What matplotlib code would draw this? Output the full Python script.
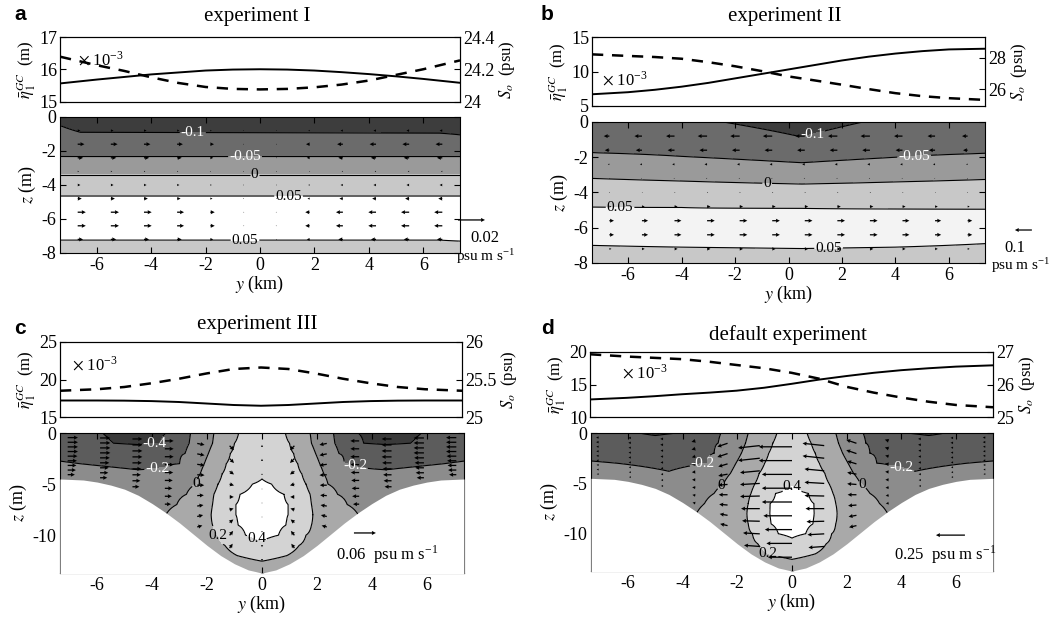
import numpy as np
import matplotlib
matplotlib.use("Agg")
import matplotlib.pyplot as plt
from matplotlib.ticker import FuncFormatter

plt.rcParams['font.family'] = ['Liberation Serif', 'DejaVu Serif']
plt.rcParams['mathtext.fontset'] = 'stix'
plt.rcParams['font.size'] = 12
plt.rcParams['axes.unicode_minus'] = False
plt.rcParams['contour.negative_linestyle'] = 'solid'

# ---------------------------------------------------------------- data
# cross-channel positions (km) of the along-channel profiles
y_profile = [-7.35, -6, -5, -4, -3, -2, -1, 0, 1, 2, 3, 4, 5, 6, 7.35]

eta_I = [15.56, 15.68, 15.76, 15.84, 15.90, 15.96, 15.99, 16.00, 15.99, 15.96, 15.91, 15.85, 15.78, 15.70, 15.58]
salt_I = [24.278, 24.225, 24.19, 24.15, 24.115, 24.09, 24.078, 24.075, 24.078, 24.088, 24.105, 24.13, 24.165, 24.20, 24.255]

eta_II = [6.7, 7.0, 7.35, 7.8, 8.35, 9.0, 9.65, 10.3, 10.95, 11.6, 12.15, 12.6, 12.95, 13.2, 13.3]
salt_II = [28.22, 28.12, 28.05, 27.94, 27.72, 27.46, 27.15, 26.81, 26.55, 26.28, 26.0, 25.74, 25.55, 25.42, 25.31]

eta_III = [17.2, 17.2, 17.18, 17.12, 17.0, 16.8, 16.6, 16.5, 16.6, 16.8, 17.0, 17.12, 17.18, 17.2, 17.2]
salt_III = [25.35, 25.37, 25.40, 25.45, 25.51, 25.58, 25.64, 25.66, 25.64, 25.58, 25.51, 25.45, 25.40, 25.37, 25.35]

eta_def = [12.7, 12.95, 13.2, 13.5, 13.75, 14.05, 14.5, 15.1, 15.75, 16.3, 16.8, 17.2, 17.5, 17.75, 17.95]
salt_def = [26.93, 26.86, 26.82, 26.78, 26.70, 26.60, 26.50, 26.36, 26.18, 25.93, 25.75, 25.60, 25.47, 25.37, 25.30]

# channel depth (m) against distance from the axis (km), triangular section
bathy_y = [0, 0.5, 1, 1.5, 2, 2.5, 3, 3.5, 4, 4.5, 5, 5.5, 6, 6.5, 7.35]
bathy_h = [13.7, 13.4, 12.8, 12.0, 11.0, 9.9, 8.8, 7.8, 6.9, 6.1, 5.5, 5.1, 4.8, 4.6, 4.5]

# salt-flux profiles (psu m/s), flat-bottom runs: (z, value) at a few stations
flux_I_y = [-7.35, -6.6, 6.6, 7.35]
flux_I_cols = [
    [(0, -0.13), (-0.5, -0.1), (-2.33, -0.05), (-3.41, 0), (-4.65, 0.05), (-6.0, 0.06), (-7.24, 0.05), (-8, 0.045)],
    [(0, -0.13), (-0.9, -0.1), (-2.33, -0.05), (-3.41, 0), (-4.65, 0.05), (-6.0, 0.06), (-7.24, 0.05), (-8, 0.045)],
    [(0, -0.13), (-0.95, -0.1), (-2.33, -0.05), (-3.41, 0), (-4.65, 0.05), (-6.0, 0.06), (-7.24, 0.05), (-8, 0.045)],
    [(0, -0.13), (-1.05, -0.1), (-2.33, -0.05), (-3.41, 0), (-4.65, 0.05), (-6.0, 0.06), (-7.3, 0.05), (-8, 0.045)],
]

flux_II_y = [-7.35, -4.0, 0.5, 4.0, 7.35]
flux_II_cols = [
    [(0, -0.085), (-1.74, -0.05), (-3.2, 0), (-4.81, 0.05), (-6.0, 0.058), (-7.0, 0.05), (-8, 0.044)],
    [(0, -0.092), (-1.95, -0.05), (-3.35, 0), (-4.85, 0.05), (-6.0, 0.058), (-7.1, 0.05), (-8, 0.044)],
    [(0, -0.115), (-0.85, -0.1), (-2.31, -0.05), (-3.52, 0), (-4.9, 0.05), (-6.0, 0.058), (-7.18, 0.05), (-8, 0.044)],
    [(0, -0.092), (-2.0, -0.05), (-3.4, 0), (-4.92, 0.05), (-6.0, 0.058), (-7.1, 0.05), (-8, 0.044)],
    [(0, -0.085), (-1.78, -0.05), (-3.26, 0), (-4.95, 0.05), (-6.0, 0.058), (-6.9, 0.05), (-8, 0.044)],
]

# channel runs: (|y|, value) along each depth level, symmetric about the axis
flux_III_z = [0, -1, -2, -3, -4, -5, -6, -7, -8, -9, -10, -11, -12, -13, -14]
flux_III_rows = [
    [(0, 0.30), (0.85, 0.2), (1.75, 0), (2.6, -0.2), (3.5, -0.4), (4.5, -0.48), (5.8, -0.4), (7.35, -0.33)],
    [(0, 0.32), (1.0, 0.2), (1.8, 0), (2.65, -0.2), (3.7, -0.4), (4.5, -0.42), (5.4, -0.4), (7.35, -0.28)],
    [(0, 0.34), (1.15, 0.2), (1.95, 0), (2.8, -0.2), (4.5, -0.27), (7.35, -0.23)],
    [(0, 0.36), (1.3, 0.2), (2.1, 0), (3.0, -0.2), (4.5, -0.23), (7.35, -0.19)],
    [(0, 0.38), (1.45, 0.2), (2.25, 0), (3.5, -0.18), (4.5, -0.18), (7.35, -0.14)],
    [(0, 0.42), (0.35, 0.4), (1.6, 0.2), (2.4, 0), (3.5, -0.1), (7.35, -0.12)],
    [(0, 0.46), (0.8, 0.4), (1.75, 0.2), (2.75, 0), (4.0, -0.08), (7.35, -0.1)],
    [(0, 0.48), (0.95, 0.4), (1.8, 0.2), (3.1, 0), (4.0, -0.06), (7.35, -0.1)],
    [(0, 0.48), (0.95, 0.4), (1.85, 0.2), (3.5, 0), (7.35, -0.05)],
    [(0, 0.47), (0.88, 0.4), (1.8, 0.2), (3.8, 0.02), (7.35, 0)],
    [(0, 0.44), (0.6, 0.4), (1.6, 0.2), (3.5, 0.05), (7.35, 0.05)],
    [(0, 0.37), (1.35, 0.2), (3.0, 0.07), (7.35, 0.07)],
    [(0, 0.26), (0.9, 0.2), (2.5, 0.08), (7.35, 0.08)],
    [(0, 0.15), (2.0, 0.06), (7.35, 0.06)],
    [(0, 0.10), (2.0, 0.05), (7.35, 0.05)],
]

flux_def_z = [0, -1, -2, -3, -4, -5, -6, -7, -8, -9, -10, -11, -12, -13, -14]
flux_def_rows = [
    [(0, 0.28), (0.55, 0.2), (1.6, 0), (2.6, -0.2), (4.2, -0.4), (5.0, -0.43), (5.6, -0.4), (7.35, -0.3)],
    [(0, 0.30), (0.7, 0.2), (1.7, 0), (2.7, -0.2), (5.0, -0.31), (7.35, -0.27)],
    [(0, 0.32), (0.85, 0.2), (1.85, 0), (2.85, -0.2), (4.5, -0.26), (7.35, -0.235)],
    [(0, 0.34), (1.0, 0.2), (2.05, 0), (3.1, -0.2), (4.5, -0.22), (7.35, -0.19)],
    [(0, 0.36), (1.2, 0.2), (2.25, 0), (3.5, -0.17), (4.5, -0.195), (7.35, -0.15)],
    [(0, 0.38), (1.35, 0.2), (2.5, 0), (3.5, -0.1), (7.35, -0.13)],
    [(0, 0.44), (0.6, 0.4), (1.5, 0.2), (2.85, 0), (4.0, -0.08), (7.35, -0.1)],
    [(0, 0.47), (0.8, 0.4), (1.6, 0.2), (3.2, 0), (4.0, -0.06), (7.35, -0.08)],
    [(0, 0.48), (0.82, 0.4), (1.65, 0.2), (3.5, 0), (7.35, -0.04)],
    [(0, 0.47), (0.78, 0.4), (1.6, 0.2), (3.6, 0.02), (7.35, 0.02)],
    [(0, 0.43), (0.5, 0.4), (1.45, 0.2), (3.5, 0.05), (7.35, 0.05)],
    [(0, 0.36), (1.25, 0.2), (3.0, 0.07), (7.35, 0.07)],
    [(0, 0.26), (0.85, 0.2), (2.5, 0.08), (7.35, 0.08)],
    [(0, 0.15), (2.0, 0.06), (7.35, 0.06)],
    [(0, 0.10), (2.0, 0.05), (7.35, 0.05)],
]

# contour levels of each section
levels_I = [-0.1, -0.05, 0, 0.05]
levels_II = [-0.1, -0.05, 0, 0.05]
levels_III = [-0.4, -0.2, 0, 0.2, 0.4]
levels_def = [-0.4, -0.2, 0, 0.2, 0.4]

# flux vectors on sigma levels (k = 1..9 of 10): row factors and station factors
flux_I_u_rows = [0.002, 0.005, 0.004, 0.001, 0.002, 0.003, 0.006, 0.006, 0.004]
flux_I_u_cols = [1, 1, 0.95, 0.85, 0.55, 0.1, -0.1, -0.55, -0.85, -0.95, -1, -1]

flux_II_u_rows = [-0.055, -0.045, -0.015, -0.006, 0.006, 0.02, 0.045, 0.045, 0.02]
flux_II_u_cols = [0.6, 0.8, 0.9, 1, 1, 1, 1, 1, 1, 0.9, 0.8, 0.6]

flux_III_u_cols = [0.028, 0.028, 0.027, 0.024, 0.02, 0.012, 0.0, -0.012, -0.02, -0.024, -0.027, -0.028, -0.028]
flux_III_w_cols = [0, 0, 0, 0, -0.004, -0.012, 0.006, -0.012, -0.004, 0, 0, 0, 0]
flux_III_u_rows = [1, 1, 1, 1, 0.95, 0.9, 0.85, 0.8, 0.7]
flux_III_w_rows = [1, 1, 0.7, 0.3, 0, -0.3, -0.7, -1, -1]

flux_def_u_cols = [-0.02, -0.02, -0.022, -0.03, -0.08, -0.17, -0.26, -0.17, -0.08, -0.03, -0.022, -0.02, -0.02]
flux_def_w_cols = [0, 0, 0, -0.01, -0.03, -0.02, 0, 0.02, 0.03, 0.01, 0, 0, 0]
flux_def_u_rows = [1.1, 1.1, 1, 1, 1, 0.95, 0.9, 0.85, 0.8]
flux_def_w_rows = [1, 1, 0.8, 0.5, 0.2, 0, -0.2, -0.4, -0.5]

# reference vectors (psu m/s)
ref_I, ref_II, ref_III, ref_def = 0.02, 0.1, 0.06, 0.25

# ---------------------------------------------------------------- layout
W, H = 1052, 619
fig = plt.figure(figsize=(W / 100, H / 100), dpi=100)
gfmt = FuncFormatter(lambda v, p: f'{v:g}')


def box(left, top, right, bottom):
    return [left / W, 1 - bottom / H, (right - left) / W, (bottom - top) / H]


def ftext(x, y, s, **kw):
    fig.text(x / W, 1 - y / H, s, **kw)


YLIM = (-7.35, 7.35)
GREYS5 = ['#3d3d3d', '#6b6b6b', '#9a9a9a', '#c8c8c8', '#ffffff']
GREYS5b = ['#3d3d3d', '#6b6b6b', '#9a9a9a', '#c8c8c8', '#f3f3f3']
GREYS6 = ['#3a3a3a', '#5c5c5c', '#8c8c8c', '#a9a9a9', '#d3d3d3', '#ffffff']


def profile_axes(rect, eta, salt, eta_lim, eta_ticks, s_lim, s_ticks):
    ax = fig.add_axes(rect)
    ax.plot(y_profile, eta, color='k', lw=1.4)
    ax.set_xlim(*YLIM)
    ax.set_ylim(*eta_lim)
    ax.set_yticks(eta_ticks)
    ax.yaxis.set_major_formatter(gfmt)
    ax.set_xticks([])
    ax.tick_params(direction='in', length=4, labelsize=13, pad=2)
    ax.set_ylabel(r'$\bar{\eta}_1^{GC}$  (m)', fontsize=12, labelpad=1)
    ax2 = ax.twinx()
    ax2.plot(y_profile, salt, color='k', lw=1.8, ls=(0, (4.5, 3.5)))
    ax2.set_ylim(*s_lim)
    ax2.set_yticks(s_ticks)
    ax2.yaxis.set_major_formatter(gfmt)
    ax2.tick_params(direction='in', length=4, labelsize=13, pad=2)
    ax2.set_ylabel(r'$S_o$  (psu)', fontsize=12, labelpad=2)
    for a in (ax, ax2):
        for sp in a.spines.values():
            sp.set_linewidth(0.8)
    return ax


def grid_from_columns(col_y, cols, yy, zz):
    prof = []
    for anchors in cols:
        z, v = np.array(anchors, dtype=float).T
        o = np.argsort(z)
        prof.append(np.interp(zz, z[o], v[o]))
    prof = np.array(prof)
    return np.array([np.interp(yy, col_y, prof[:, i]) for i in range(len(zz))])


def grid_from_rows(row_z, rows, yy, zz):
    prof = []
    for anchors in rows:
        y, v = np.array(anchors, dtype=float).T
        prof.append(np.interp(np.abs(yy), y, v))
    prof = np.array(prof)
    rz = np.array(row_z, dtype=float)
    o = np.argsort(rz)
    return np.array([np.interp(zz, rz[o], prof[o, j]) for j in range(len(yy))]).T


def section_axes(rect, yy, zz, S, levels, colors, zlim, zticks, labels):
    ax = fig.add_axes(rect)
    bounds = [-10] + list(levels) + [10]
    ax.contourf(yy, zz, S, levels=bounds, colors=colors, zorder=1)
    cs = ax.contour(yy, zz, S, levels=levels, colors='k', linewidths=0.8,
                    linestyles='solid', zorder=2)
    pos = [(p[0], p[1]) for p in labels]
    txt = ax.clabel(cs, levels=levels, manual=pos, inline=True, inline_spacing=1,
                    fontsize=11, fmt=lambda v: f"{v:g}")
    for t, p in zip(txt, labels):
        t.set_color(p[2])
        t.set_rotation(0)
        t.set_zorder(6)
    ax.set_xlim(*YLIM)
    ax.set_ylim(*zlim)
    ax.set_xticks([-6, -4, -2, 0, 2, 4, 6])
    ax.set_yticks(zticks)
    ax.tick_params(direction='in', length=4, labelsize=13, top=True, right=True, pad=3)
    ax.set_xlabel(r'$y$ (km)', fontsize=13, labelpad=0)
    ax.set_ylabel(r'$z$ (m)', fontsize=13, labelpad=2)
    for sp in ax.spines.values():
        sp.set_linewidth(0.8)
    return ax


QV = dict(angles='uv', scale_units='inches', pivot='tail', color='k', width=0.0032,
          headwidth=3.2, headlength=3.2, headaxislength=2.9, minlength=0.6, zorder=5)

yy = np.linspace(-7.35, 7.35, 295)

# ---------------------------------------------------------------- panel a
profile_axes(box(60, 37, 460, 101.5), eta_I, salt_I, (15, 17), [15, 16, 17], (24, 24.4), [24, 24.2, 24.4])
zz = np.linspace(-8, 0, 161)
S = grid_from_columns(flux_I_y, flux_I_cols, yy, zz)
ax = section_axes(box(60, 117, 460, 253), yy, zz, S, levels_I, GREYS5, (-8, 0), [-8, -6, -4, -2, 0],
                  [(-2.47, -0.95, 'w'), (-0.55, -2.3, 'w'), (-0.2, -3.41, 'k'), (1.05, -4.65, 'k'), (-0.55, -7.24, 'k')])
qy = np.linspace(-6.7, 6.7, 12)
Y, K = np.meshgrid(qy, np.arange(1, 10))
U = np.outer(flux_I_u_rows, flux_I_u_cols)
q = ax.quiver(Y, -8 * K / 10, U, np.zeros_like(U), scale=0.074, **QV)
ax.quiverkey(q, 1.0625, 0.243, ref_I, ' ', coordinates='axes', labelpos='E')
ax.text(1.0625, 0.11, f'{ref_I:g}', transform=ax.transAxes, ha='center', va='center', fontsize=12)
ax.text(1.065, -0.02, r'psu m s$^{\mathregular{-1}}$', transform=ax.transAxes, ha='center', va='center', fontsize=11)

# ---------------------------------------------------------------- panel b
profile_axes(box(592, 37, 985, 106), eta_II, salt_II, (5, 15), [5, 10, 15], (24.92, 29.33), [26, 28])
S = grid_from_columns(flux_II_y, flux_II_cols, yy, zz)
ax = section_axes(box(592, 122, 985, 263), yy, zz, S, levels_II, GREYS5b, (-8, 0), [-8, -6, -4, -2, 0],
                  [(0.9, -0.8, 'w'), (4.7, -1.95, 'w'), (-0.8, -3.5, 'k'), (-6.3, -4.82, 'k'), (1.5, -7.18, 'k')])
U = np.outer(flux_II_u_rows, flux_II_u_cols)
q = ax.quiver(Y, -8 * K / 10, U, np.zeros_like(U), scale=0.588, **QV)
ax.quiverkey(q, 1.076, 0.234, ref_II, ' ', angle=180, coordinates='axes', labelpos='E')
ax.text(1.076, 0.106, f'{ref_II:g}', transform=ax.transAxes, ha='center', va='center', fontsize=12)
ax.text(1.09, -0.014, r'psu m s$^{\mathregular{-1}}$', transform=ax.transAxes, ha='center', va='center', fontsize=11)

# ---------------------------------------------------------------- channel sections
zz2 = np.linspace(-14, 0, 281)
by = np.concatenate([-np.array(bathy_y[::-1]), np.array(bathy_y[1:])])
bh = np.concatenate([np.array(bathy_h[::-1]), np.array(bathy_h[1:])])
qy2 = np.linspace(-7.07, 7.07, 13)
depth_q = np.interp(np.abs(qy2), bathy_y, bathy_h)
Y2, K2 = np.meshgrid(qy2, np.arange(1, 10))
Z2 = -depth_q[None, :] * K2 / 10


def channel(rect, rows_z, rows, levels, labels, u_cols, w_cols, u_rows, w_rows, sc, ref, ref_xy, ref_angle, txt_xy):
    S = grid_from_rows(rows_z, rows, yy, zz2)
    ax = section_axes(rect, yy, zz2, S, levels, GREYS6, (-13.7, 0), [-10, -5, 0], labels)
    ax.fill_between(by, -bh, -20, color='white', lw=0, zorder=3)
    U = np.outer(u_rows, u_cols)
    Wv = np.outer(w_rows, w_cols)
    q = ax.quiver(Y2, Z2, U, Wv, scale=sc, **QV)
    ax.quiverkey(q, ref_xy[0], ref_xy[1], ref, ' ', angle=ref_angle, coordinates='axes', labelpos='E')
    ax.text(txt_xy[0], txt_xy[1], f'{ref:g}  psu m s$^{{\\mathregular{{-1}}}}$', transform=ax.transAxes,
            ha='center', va='center', fontsize=12, zorder=7)
    return ax


# ---------------------------------------------------------------- panel c
profile_axes(box(60, 342, 462, 417), eta_III, salt_III, (15, 25), [15, 20, 25], (25, 26), [25, 25.5, 26])
channel(box(60, 433, 464, 573), flux_III_z, flux_III_rows, levels_III,
        [(-3.9, -1.0, 'w'), (-3.8, -3.6, 'w'), (3.45, -2.7, 'w'), (-2.35, -5.0, 'k'),
         (-1.6, -10.0, 'k'), (-0.2, -10.5, 'k')],
        flux_III_u_cols, flux_III_w_cols, flux_III_u_rows, flux_III_w_rows,
        0.273, ref_III, (0.782, 0.286), 0, (0.81, 0.129))

# ---------------------------------------------------------------- panel d
profile_axes(box(590, 352, 993, 417), eta_def, salt_def, (10, 20), [10, 15, 20], (25, 27), [25, 26, 27])
channel(box(591, 433, 993, 571), flux_def_z, flux_def_rows, levels_def,
        [(-3.25, -3.3, 'w'), (4.05, -2.8, 'w'), (-2.5, -5.5, 'k'), (2.7, -4.7, 'k'),
         (0.0, -5.35, 'k'), (-0.87, -12.0, 'k')],
        flux_def_u_cols, flux_def_w_cols, flux_def_u_rows, flux_def_w_rows,
        0.862, ref_def, (0.858, 0.26), 180, (0.88, 0.116))

# ---------------------------------------------------------------- titles and panel letters
for x, y, s in [(257, 16, 'experiment I'), (785, 16, 'experiment II'),
                (257, 325, 'experiment III'), (788, 335, 'default experiment')]:
    ftext(x, y, s, ha='center', va='center', fontsize=15)
for x, y, s in [(20, 14, 'a'), (547, 14, 'b'), (20, 328, 'c'), (547, 328, 'd')]:
    ftext(x, y, s, ha='center', va='center', fontsize=15, fontweight='bold',
          family=['Liberation Sans', 'DejaVu Sans'])
for x, y in [(78, 60), (602, 80), (72, 365), (622, 373)]:
    ftext(x, y, r'$\times$ 10$^{\mathregular{-3}}$', ha='left', va='center', fontsize=12)

fig.savefig('out.png', dpi=100)
